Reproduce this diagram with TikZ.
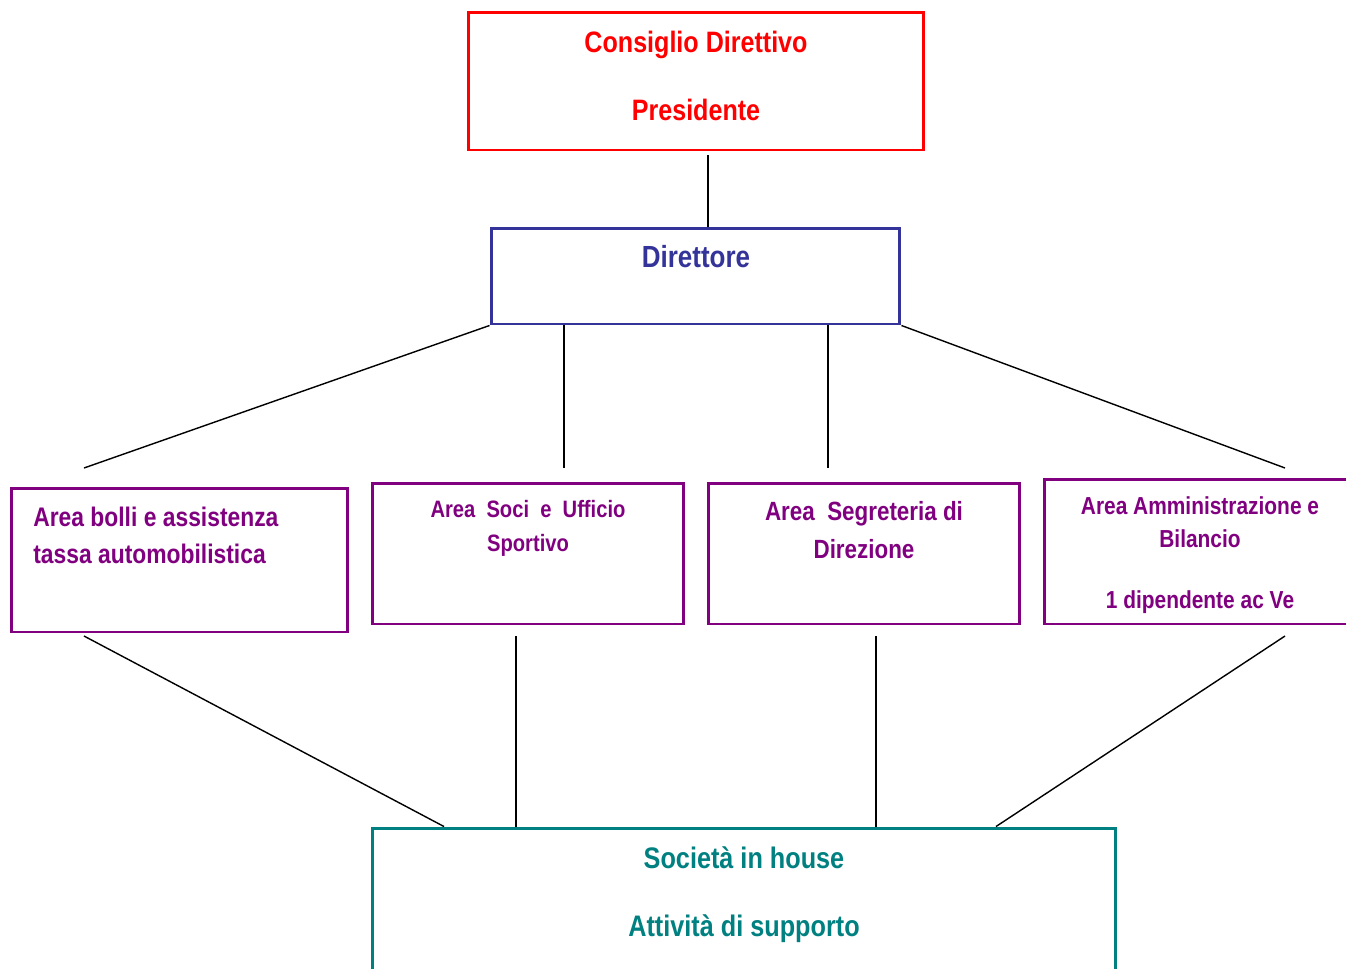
\documentclass[tikz,border=0pt]{standalone}
\usepackage{fontspec}
\setmainfont{Liberation Sans}[FakeStretch=0.85]
\usepackage{xcolor}
\usepackage{tikz}

\definecolor{cdred}{HTML}{FF0000}
\definecolor{dirblue}{HTML}{333399}
\definecolor{areapurple}{HTML}{800080}
\definecolor{houseteal}{HTML}{008080}

\begin{document}
\begin{tikzpicture}[x=0.02cm, y=-0.02cm,
  box/.style={draw, line width=1.7pt, inner sep=0pt},
  lbl/.style={align=center, inner sep=0pt},
  link/.style={line width=0.8pt}]
\useasboundingbox (0,0) rectangle (1346,968);

% boxes
\node[box, cdred, minimum width=9.12cm, minimum height=2.76cm] (cd) at (696,81) {};
\node[box, dirblue, minimum width=8.18cm, minimum height=1.92cm] (dir) at (695.5,276) {};
\node[box, areapurple, minimum width=6.74cm, minimum height=2.88cm] (bolli) at (179.5,560) {};
\node[box, areapurple, minimum width=6.24cm, minimum height=2.82cm] (soci) at (528,553.5) {};
\node[box, areapurple, minimum width=6.24cm, minimum height=2.82cm] (segr) at (864,553.5) {};
\node[box, areapurple, minimum width=6.32cm, minimum height=2.90cm] (amm) at (1202,551.5) {};
\node[box, houseteal, minimum width=14.88cm, minimum height=3.24cm] (house) at (744,909) {};

% texts
\node[lbl, cdred, font=\bfseries\fontsize{16.8}{38.6}\selectfont] (cd-t) at (696,76)
  {Consiglio Direttivo\\Presidente};
\node[lbl, dirblue, font=\bfseries\fontsize{17.4}{20}\selectfont] (dir-t) at (696,257) {Direttore};
\node[lbl, areapurple, align=left, anchor=west, font=\bfseries\fontsize{15.3}{21}\selectfont] (bolli-t) at (33,535)
  {Area bolli e assistenza\\tassa automobilistica};
\node[lbl, areapurple, font=\bfseries\fontsize{13.5}{19.3}\selectfont] (soci-t) at (528,528)
  {Area\ \ Soci\ \ e\ \ Ufficio\\Sportivo};
\node[lbl, areapurple, font=\bfseries\fontsize{15}{22.1}\selectfont] (segr-t) at (864,530)
  {Area\ \ Segreteria di\\Direzione};
\node[lbl, areapurple, font=\bfseries\fontsize{14}{18.7}\selectfont] (amm-t) at (1200,555)
  {Area Amministrazione e\\Bilancio\\[15.9pt]1 dipendente ac Ve};
\node[lbl, houseteal, font=\bfseries\fontsize{16.9}{38.6}\selectfont] (house-t) at (744,895)
  {Società in house\\Attività di supporto};

% free ends of the connectors
\coordinate (cd-out) at (708,155);
\coordinate (up1) at (84,468);
\coordinate (up2) at (564,468);
\coordinate (up3) at (828,468);
\coordinate (up4) at (1285,468);
\coordinate (dn1) at (84,636);
\coordinate (dn2) at (516,636);
\coordinate (dn3) at (876,636);
\coordinate (dn4) at (1285,636);

% connectors
\draw[link] (cd-out) -- (cd-out |- dir.north);
\draw[link] (dir.south west) -- (up1);
\draw[link] (up2 |- dir.south) -- (up2);
\draw[link] (up3 |- dir.south) -- (up3);
\draw[link] (dir.south east) -- (up4);
\draw[link] (dn1) -- (444,828 |- house.north);
\draw[link] (dn2) -- (dn2 |- house.north);
\draw[link] (dn3) -- (dn3 |- house.north);
\draw[link] (dn4) -- (996,828 |- house.north);
\end{tikzpicture}
\end{document}
